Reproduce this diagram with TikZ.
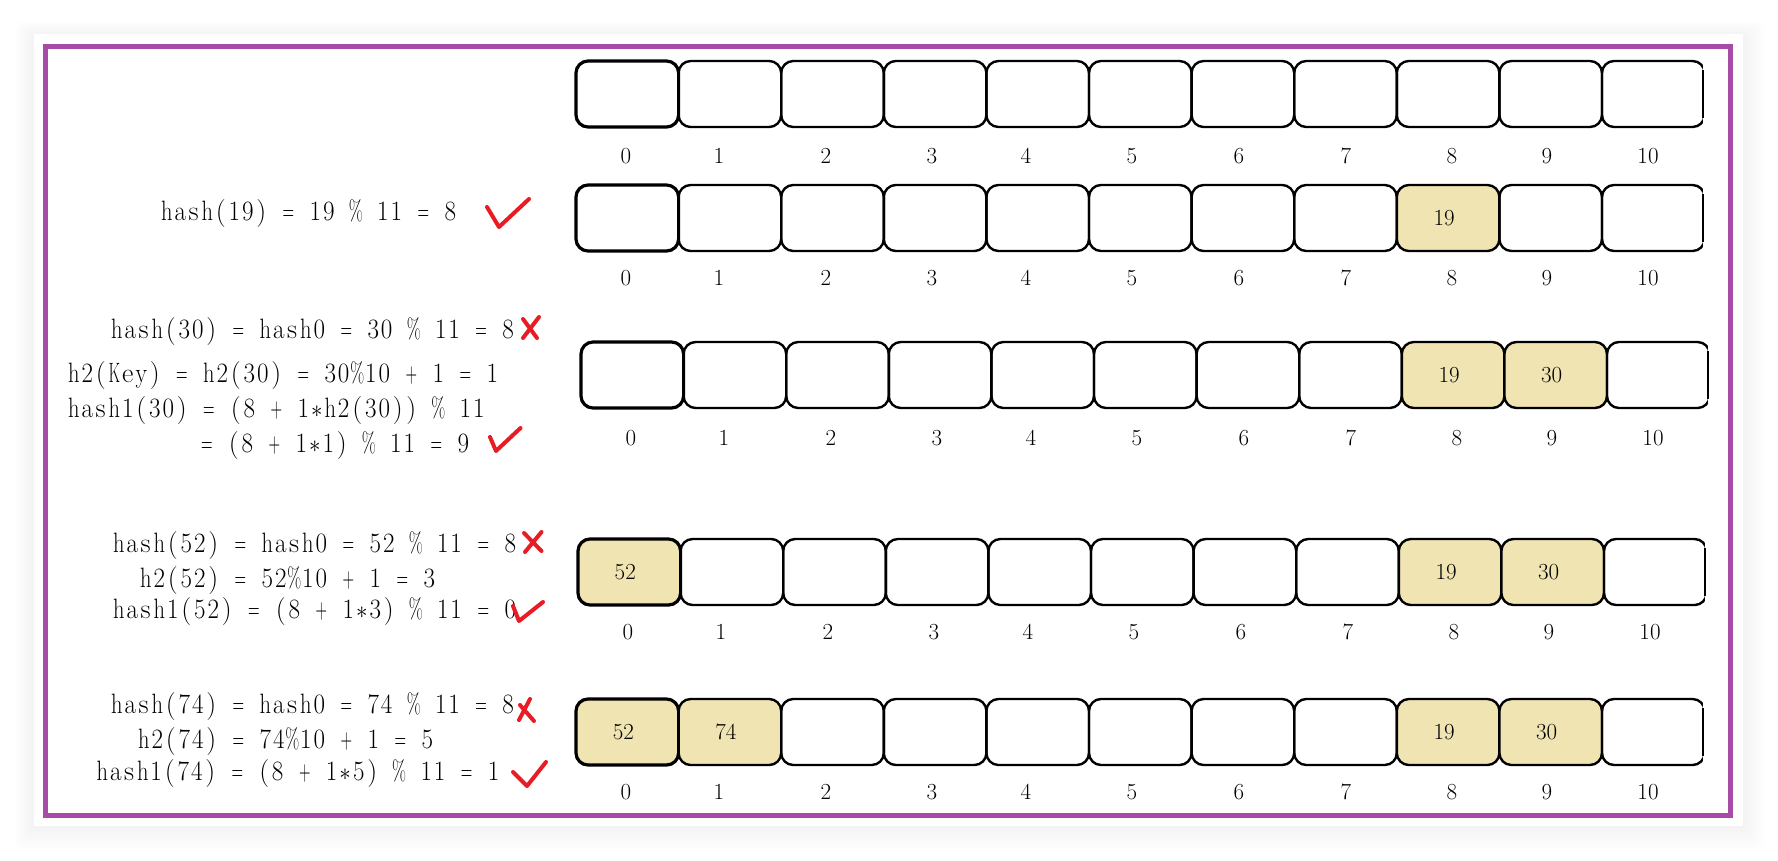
\documentclass[tikz,border=0pt]{standalone}
\usepackage{graphicx}
\definecolor{framepurple}{RGB}{166,76,166}
\definecolor{beige}{RGB}{239,228,178}
\definecolor{redmark}{RGB}{232,28,36}
\newcommand\sh{\hspace*{-8pt}}
\newcommand\ST{$\ast$}
\newlength\monow \setlength\monow{13.5pt}
\newlength\glyphmax \setlength\glyphmax{11.5pt}
\newcommand\mchar[1]{\ifx\%#1\makebox[\monow][c]{\resizebox{14pt}{\height}{\%}}\else\sbox0{#1}\ifdim\wd0>\glyphmax\makebox[\monow][c]{\resizebox{\glyphmax}{\height}{#1}}\else\makebox[\monow][c]{#1}\fi\fi}
\ExplSyntaxOn
\NewDocumentCommand\mono{m}{\tl_map_inline:nn{#1}{\mchar{##1}}}
\ExplSyntaxOff
\tikzset{
 ec/.style={draw=black, line width=2.4pt, rounded corners=12pt, minimum width=102.6pt, minimum height=66pt, inner sep=0pt, outer sep=0pt, font=\fontsize{23}{28}\selectfont},
 ec0/.style={ec, line width=3.2pt},
 fc/.style={ec, fill=beige},
 fc0/.style={ec0, fill=beige},
 idx/.style={font=\fontsize{23}{28}\selectfont, inner sep=0pt},
 formula/.style={anchor=base west, inner sep=0pt, outer sep=0pt, font=\fontsize{28}{34}\selectfont},
 okmark/.style={draw=redmark, line width=4pt, line cap=round, line join=round},
 nomark/.style={draw=redmark, line width=4pt, line cap=round},
}
\newcommand\formula[4]{\node[formula] (#1) at (#2,#3) {\mono{#4}};}
\newcommand\hrow[5]{%
  \foreach \i/\s/\t in {#5} {\node[\s] (r#1c\i) at ({#2+(\i+0.5)*102.6},{#3+33}) {\t};}
  \foreach \i/\o in {0/50,1/143,2/250,3/356,4/450,5/556,6/663,7/770,8/876,9/971,10/1072} {\node[idx] (l#1c\i) at ({#2+\o},#4) {\i};}
  \fill[white] ([xshift=-2pt,yshift=4pt]r#1c10.north east) rectangle ([xshift=5pt,yshift=-4pt]r#1c10.south east);
  \draw[line width=2pt] ([xshift=-2pt,yshift=-9pt]r#1c10.north east) -- ([xshift=-2pt,yshift=9pt]r#1c10.south east);
}
\begin{document}
\begin{tikzpicture}[x=1pt,y=-1pt]
\useasboundingbox (0,0) rectangle (1778,860);
\fill[white] (0,0) rectangle (1778,860);
% card shadow
\foreach \k in {1,...,12} \fill[black, opacity=0.0035, rounded corners=6pt] ({34-\k*1.6},{34-\k*1.2+2}) rectangle ({1743+\k*1.8},{826+\k*2});
\fill[white] (34,34) rectangle (1743,826);
\draw[framepurple, line width=5pt] (45.5,46.5) rectangle (1730,815.5);

% rows of cells
\hrow{1}{576}{61}{156}{0/ec0/{},1/ec/{},2/ec/{},3/ec/{},4/ec/{},5/ec/{},6/ec/{},7/ec/{},8/ec/{},9/ec/{},10/ec/{}}
\hrow{2}{576}{185}{278}{0/ec0/{},1/ec/{},2/ec/{},3/ec/{},4/ec/{},5/ec/{},6/ec/{},7/ec/{},8/fc/\sh19,9/ec/{},10/ec/{}}
\hrow{3}{581}{342}{438}{0/ec0/{},1/ec/{},2/ec/{},3/ec/{},4/ec/{},5/ec/{},6/ec/{},7/ec/{},8/fc/\sh19,9/fc/\sh30,10/ec/{}}
\hrow{4}{578}{539}{632}{0/fc0/\sh52,1/ec/{},2/ec/{},3/ec/{},4/ec/{},5/ec/{},6/ec/{},7/ec/{},8/fc/\sh19,9/fc/\sh30,10/ec/{}}
\hrow{5}{576}{699}{792}{0/fc0/\sh52,1/fc/\sh74,2/ec/{},3/ec/{},4/ec/{},5/ec/{},6/ec/{},7/ec/{},8/fc/\sh19,9/fc/\sh30,10/ec/{}}

% formulas
\formula{fa}{160}{220}{hash(19)~=~19~\%~11~=~8}
\formula{fb}{110}{338}{hash(30)~=~hash0~=~30~\%~11~=~8}
\formula{fc}{67}{382}{h2(Key)~=~h2(30)~=~30\%10~+~1~=~1}
\formula{fd}{67}{417}{hash1(30)~=~(8~+~1\ST h2(30))~\%~11}
\formula{fe}{200}{452}{=~(8~+~1\ST1)~\%~11~=~9}
\formula{ff}{112}{552}{hash(52)~=~hash0~=~52~\%~11~=~8}
\formula{fg}{139}{587}{h2(52)~=~52\%10~+~1~=~3}
\formula{fh}{112}{618}{hash1(52)~=~(8~+~1\ST3)~\%~11~=~0}
\formula{fi}{110}{713}{hash(74)~=~hash0~=~74~\%~11~=~8}
\formula{fj}{137}{748}{h2(74)~=~74\%10~+~1~=~5}
\formula{fk}{95.5}{780}{hash1(74)~=~(8~+~1\ST5)~\%~11~=~1}

% check marks
\draw[okmark] (487,207) -- (499,227) -- (529,199);
\draw[okmark] (490,437) -- (496,451) -- (520.5,428);
\draw[okmark] (513,606) -- (519,621) -- (543,602);
\draw[okmark] (513,772) -- (527,786) -- (546,762);
% cross marks
\draw[nomark] (523,319) -- (537,338);
\draw[nomark] (539,317) -- (523,338);
\draw[nomark] (524,533) -- (541.5,551);
\draw[nomark] (541.5,532) -- (525,552);
\draw[nomark] (530,699) -- (519,720);
\draw[nomark] (520,705) -- (534,721);
\end{tikzpicture}
\end{document}
